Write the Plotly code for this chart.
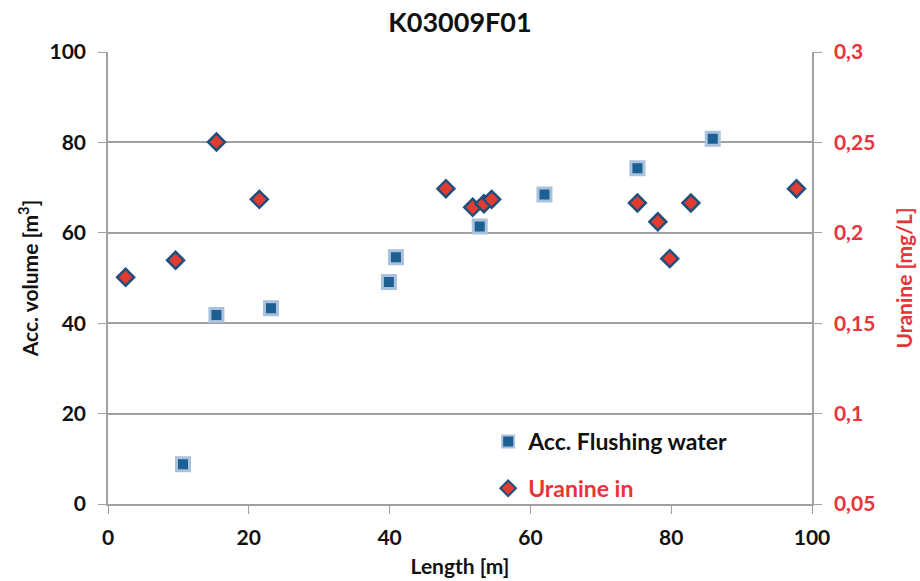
import plotly.graph_objects as go

# Acc. Flushing water (left axis, m³)
flush_len = [10.65, 15.4, 23.15, 39.9, 40.9, 52.8, 62.0, 75.2, 85.9]
flush_vol = [8.8, 41.8, 43.3, 49.1, 54.6, 61.4, 68.5, 74.3, 80.8]

# Uranine in (right axis, mg/L)
uran_len = [2.5, 9.6, 15.4, 21.5, 48.0, 51.8, 53.4, 54.5, 75.2, 78.1, 79.8, 82.8, 97.8]
uran_val = [0.1754, 0.1848, 0.2502, 0.2185, 0.2244, 0.2141, 0.2161, 0.2185,
            0.2165, 0.2061, 0.1857, 0.2165, 0.2244]

x_ticks = [0, 20, 40, 60, 80, 100]
left_ticks = [0, 20, 40, 60, 80, 100]
right_ticks = [0.05, 0.1, 0.15, 0.2, 0.25, 0.3]
right_labels = ["0,05", "0,1", "0,15", "0,2", "0,25", "0,3"]

FONT = "Lato"
BLUE = "#1b5f93"
RED = "#e8333a"
GRID = "#a0a0a0"
FS = 21

fig = go.Figure()
fig.add_trace(go.Scatter(
    x=flush_len, y=flush_vol, mode="markers", name="<b>Acc. Flushing water</b>",
    legendgroup="a",
    marker=dict(symbol="square", size=13, color=BLUE,
                line=dict(color="#a9c1dc", width=3)),
    yaxis="y"))
fig.add_trace(go.Scatter(
    x=uran_len, y=uran_val, mode="markers",
    name="<b><span style='color:#e8333a'>Uranine in</span></b>",
    legendgroup="b",
    marker=dict(symbol="diamond", size=13, color="#e23b30",
                line=dict(color="#1f4f7c", width=2.5)),
    yaxis="y2"))

fig.update_layout(
    width=920, height=581,
    margin=dict(l=108, r=108, t=52, b=77),
    paper_bgcolor="white", plot_bgcolor="white",
    separators=", ",
    font=dict(family=FONT, size=FS, color="black"),
    title=dict(text="<b>K03009F01</b>", x=0.5, xanchor="center", y=0.962,
               yanchor="middle", font=dict(family=FONT, size=27, color="#111")),
    xaxis=dict(range=[0, 100], tickvals=x_ticks, automargin=False,
               ticktext=[f"<b>{v}</b>" for v in x_ticks], showgrid=False,
               showline=True, linecolor=GRID, linewidth=1.5,
               ticks="outside", ticklen=8, tickcolor=GRID,
               ticklabelstandoff=6,
               tickfont=dict(family=FONT, size=FS, color="#111"),
               title=dict(text="<b>Length [m]</b>", standoff=11,
                          font=dict(family=FONT, size=FS, color="#111")),
               zeroline=False),
    yaxis=dict(range=[0, 100], tickvals=left_ticks, automargin=False,
               ticktext=[f"<b>{v}</b>" for v in left_ticks], showgrid=True,
               gridcolor=GRID, gridwidth=1.5,
               showline=True, linecolor=GRID, linewidth=1.5,
               ticks="outside", ticklen=8, tickcolor=GRID,
               ticklabelstandoff=8,
               tickfont=dict(family=FONT, size=FS, color="#111"),
               title=dict(text="<b>Acc. volume [m<sup>3</sup>]</b>", standoff=5,
                          font=dict(family=FONT, size=FS, color="#111")),
               zeroline=False),
    yaxis2=dict(range=[0.05, 0.3], tickvals=right_ticks, automargin=False,
                ticktext=[f"<b>{t}</b>" for t in right_labels],
                overlaying="y", side="right", showgrid=False,
                showline=True, linecolor=GRID, linewidth=1.5,
                ticks="outside", ticklen=8, tickcolor=GRID,
                ticklabelstandoff=8,
                tickfont=dict(family=FONT, size=FS, color=RED),
                title=dict(text="<b>Uranine [mg/L]</b>", standoff=23,
                           font=dict(family=FONT, size=FS, color=RED)),
                zeroline=False),
    legend=dict(x=0.54, y=0.186, xanchor="left", yanchor="top",
                bgcolor="rgba(0,0,0,0)", tracegroupgap=14,
                font=dict(family=FONT, size=23, color="#111"),
                itemsizing="constant"),
    showlegend=True,
)

fig.write_html("out.html")
